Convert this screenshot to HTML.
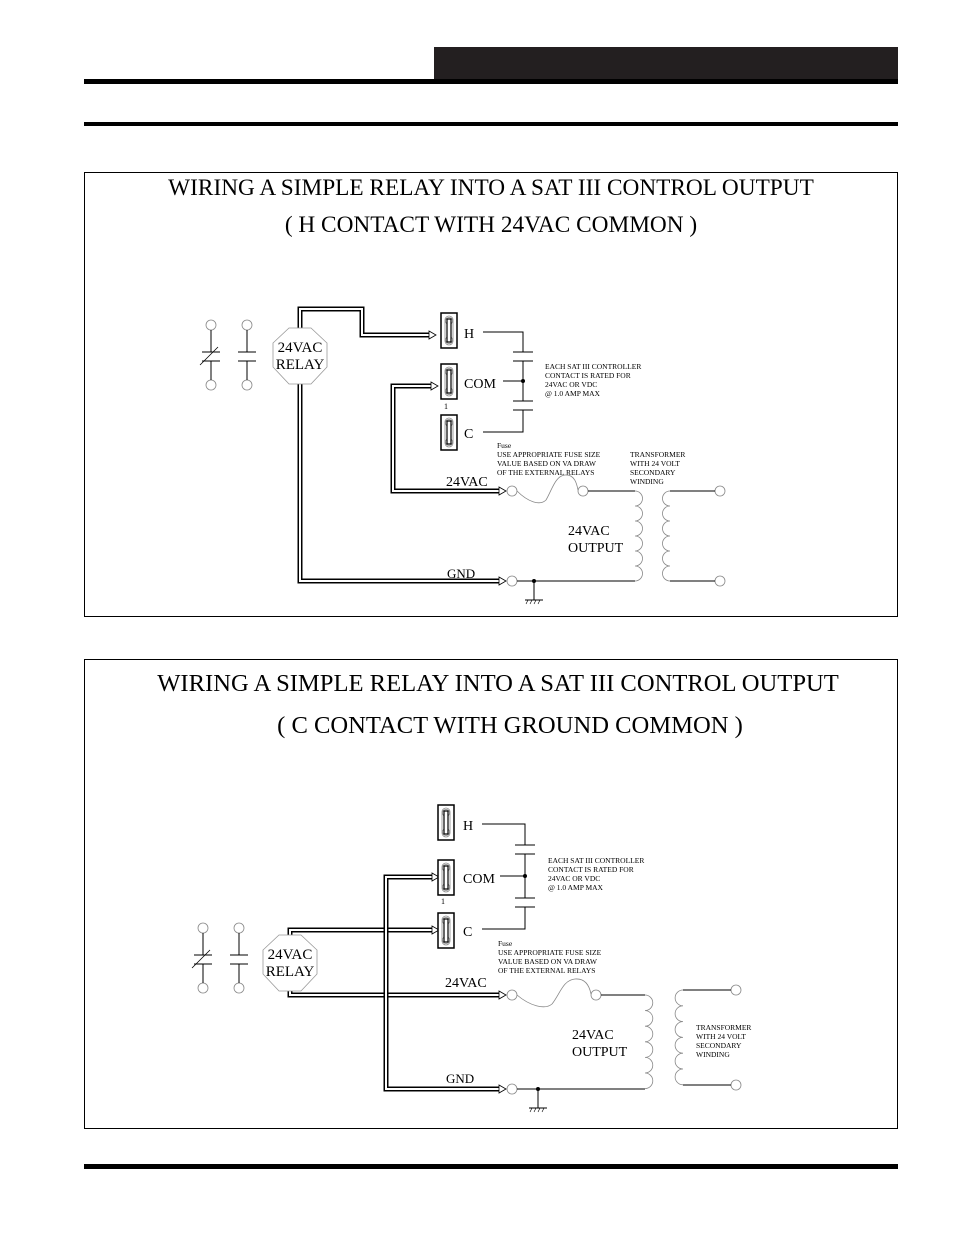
<!DOCTYPE html>
<html><head><meta charset="utf-8"><style>
html,body{margin:0;padding:0;background:#fff}
svg{display:block}
text{font-family:"Liberation Serif",serif;fill:#000}
</style></head><body>
<svg width="954" height="1235" viewBox="0 0 954 1235" xmlns="http://www.w3.org/2000/svg">
<defs>
<g id="blk">
<rect x="0" y="0" width="16" height="35" fill="#fff" stroke="#000" stroke-width="1.5"/>
<rect x="4" y="3" width="8" height="29" rx="4" fill="none" stroke="#888" stroke-width="0.8"/>
<circle cx="8" cy="8" r="3.5" fill="none" stroke="#888" stroke-width="0.8"/>
<circle cx="8" cy="27" r="3.5" fill="none" stroke="#888" stroke-width="0.8"/>
<rect x="6" y="6" width="4" height="23" fill="#fff" stroke="#000" stroke-width="1.2"/>
</g>
<g id="contacts">
<circle cx="0" cy="0" r="5" fill="#fff" stroke="#888" stroke-width="0.8"/>
<circle cx="0" cy="60" r="5" fill="#fff" stroke="#888" stroke-width="0.8"/>
<line x1="0" y1="5" x2="0" y2="27" stroke="#000"/>
<line x1="0" y1="36" x2="0" y2="55" stroke="#000"/>
<line x1="-9" y1="27" x2="9" y2="27" stroke="#000"/>
<line x1="-9" y1="36" x2="9" y2="36" stroke="#000"/>
<line x1="-11" y1="40" x2="7" y2="22" stroke="#000" stroke-width="0.8"/>
<circle cx="36" cy="0" r="5" fill="#fff" stroke="#888" stroke-width="0.8"/>
<circle cx="36" cy="60" r="5" fill="#fff" stroke="#888" stroke-width="0.8"/>
<line x1="36" y1="5" x2="36" y2="27" stroke="#000"/>
<line x1="36" y1="36" x2="36" y2="55" stroke="#000"/>
<line x1="27" y1="27" x2="45" y2="27" stroke="#000"/>
<line x1="27" y1="36" x2="45" y2="36" stroke="#000"/>
</g>
<g id="oct">
<polygon points="-11,-28 11,-28 27,-13 27,11 11,28 -11,28 -27,11 -27,-13" fill="#fff" stroke="#999" stroke-width="0.8"/>
<text x="0" y="-4" font-size="15" text-anchor="middle">24VAC</text>
<text x="0" y="13" font-size="15" text-anchor="middle">RELAY</text>
</g>
<g id="cap">
<line x1="-10" y1="0" x2="10" y2="0" stroke="#000"/>
<line x1="-10" y1="9" x2="10" y2="9" stroke="#000"/>
</g>
<g id="gnd">
<line x1="0" y1="0" x2="0" y2="19" stroke="#000"/>
<line x1="-9" y1="19" x2="9" y2="19" stroke="#000"/>
<path d="M-8 23 l2 -4 M-4 23 l2 -4 M0 23 l2 -4 M4 23 l2 -4" stroke="#000" stroke-width="0.6"/>
</g>
</defs>

<rect x="434" y="47" width="464" height="33" fill="#231f20"/>
<rect x="84" y="79" width="814" height="5" fill="#000"/>
<rect x="84" y="122" width="814" height="4" fill="#000"/>
<rect x="84" y="1164" width="814" height="5" fill="#000"/>

<rect x="84.5" y="172.5" width="813" height="444" fill="none" stroke="#000" stroke-width="1"/>
<text x="491" y="195" font-size="23.3" text-anchor="middle">WIRING A SIMPLE RELAY INTO A SAT III CONTROL OUTPUT</text>
<text x="491" y="232" font-size="23.3" text-anchor="middle">( H CONTACT WITH 24VAC COMMON )</text>

<use href="#contacts" x="211" y="325"/>
<g fill="none" stroke-linejoin="miter">
<path d="M300 330 V309 H362 V335 H429" stroke="#000" stroke-width="5"/>
<path d="M300 330 V309 H362 V335 H429" stroke="#fff" stroke-width="2"/>
<path d="M431 386 H393 V491 H499" stroke="#000" stroke-width="5"/>
<path d="M431 386 H393 V491 H499" stroke="#fff" stroke-width="2"/>
<path d="M300 380 V581 H499" stroke="#000" stroke-width="5"/>
<path d="M300 380 V581 H499" stroke="#fff" stroke-width="2"/>
</g>
<g fill="#fff" stroke="#000" stroke-width="0.8">
<polygon points="429,331 436,335 429,339"/>
<polygon points="431,382 438,386 431,390"/>
<polygon points="499,487 506,491 499,495"/>
<polygon points="499,577 506,581 499,585"/>
</g>
<use href="#oct" x="300" y="356"/>
<use href="#blk" x="441" y="313"/>
<use href="#blk" x="441" y="364"/>
<use href="#blk" x="441" y="415"/>
<text x="444" y="409" font-size="8">1</text>
<text x="464" y="338" font-size="14">H</text>
<text x="464" y="388" font-size="14">COM</text>
<text x="464" y="438" font-size="14">C</text>
<g stroke="#000" fill="none">
<path d="M483 332 H523 V352 M523 361 V401 M523 410 V432 H483 M503 381 H523"/>
</g>
<use href="#cap" x="523" y="352"/>
<use href="#cap" x="523" y="401"/>
<circle cx="523" cy="381" r="2" fill="#000"/>
<g font-size="7.5">
<text x="545" y="369">EACH SAT III CONTROLLER</text>
<text x="545" y="378">CONTACT IS RATED FOR</text>
<text x="545" y="387">24VAC OR VDC</text>
<text x="545" y="396">@ 1.0 AMP MAX</text>
<text x="497" y="448">Fuse</text>
<text x="497" y="457">USE APPROPRIATE FUSE SIZE</text>
<text x="497" y="466">VALUE BASED ON VA DRAW</text>
<text x="497" y="475">OF THE EXTERNAL RELAYS</text>
<text x="630" y="457">TRANSFORMER</text>
<text x="630" y="466">WITH 24 VOLT</text>
<text x="630" y="475">SECONDARY</text>
<text x="630" y="484">WINDING</text>
</g>
<text x="446" y="486" font-size="14">24VAC</text>
<text x="447" y="578" font-size="13">GND</text>
<text x="568" y="535" font-size="14">24VAC</text>
<text x="568" y="552" font-size="14">OUTPUT</text>
<g fill="none" stroke="#888" stroke-width="0.8">
<circle cx="512" cy="491" r="5"/><circle cx="583" cy="491" r="5"/>
<circle cx="512" cy="581" r="5"/>
<circle cx="720" cy="491" r="5"/><circle cx="720" cy="581" r="5"/>
<path d="M517 491 C528 502,540 506,546 500 C552 490,555 476,565 475 C575 474,577 485,578 490"/>
<path d="M635 491 a7.5 7.5 0 0 1 0 15 a7.5 7.5 0 0 1 0 15 a7.5 7.5 0 0 1 0 15 a7.5 7.5 0 0 1 0 15 a7.5 7.5 0 0 1 0 15 a7.5 7.5 0 0 1 0 15"/>
<path d="M670 491 a7.5 7.5 0 0 0 0 15 a7.5 7.5 0 0 0 0 15 a7.5 7.5 0 0 0 0 15 a7.5 7.5 0 0 0 0 15 a7.5 7.5 0 0 0 0 15 a7.5 7.5 0 0 0 0 15"/>
</g>
<g stroke="#000" fill="none">
<path d="M588 491 H635 M517 581 H635 M670 491 H715 M670 581 H715"/>
</g>
<circle cx="534" cy="581" r="2" fill="#000"/>
<use href="#gnd" x="534" y="581"/>

<rect x="84.5" y="659.5" width="813" height="469" fill="none" stroke="#000" stroke-width="1"/>
<text x="498" y="691" font-size="24.6" text-anchor="middle">WIRING A SIMPLE RELAY INTO A SAT III CONTROL OUTPUT</text>
<text x="510" y="733" font-size="24.6" text-anchor="middle">( C CONTACT WITH GROUND COMMON )</text>

<use href="#contacts" x="203" y="928"/>
<g fill="none">
<path d="M290 938 V930 H432" stroke="#000" stroke-width="5"/>
<path d="M290 938 V930 H432" stroke="#fff" stroke-width="2"/>
<path d="M290 988 V995 H499" stroke="#000" stroke-width="5"/>
<path d="M290 988 V995 H499" stroke="#fff" stroke-width="2"/>
<path d="M432 877 H386 V1089 H499" stroke="#000" stroke-width="5"/>
<path d="M432 877 H386 V1089 H499" stroke="#fff" stroke-width="2"/>
</g>
<g fill="#fff" stroke="#000" stroke-width="0.8">
<polygon points="432,926 439,930 432,934"/>
<polygon points="432,873 439,877 432,881"/>
<polygon points="499,991 506,995 499,999"/>
<polygon points="499,1085 506,1089 499,1093"/>
</g>
<use href="#oct" x="290" y="963"/>
<use href="#blk" x="438" y="805"/>
<use href="#blk" x="438" y="860"/>
<use href="#blk" x="438" y="913"/>
<text x="441" y="904" font-size="8">1</text>
<text x="463" y="830" font-size="14">H</text>
<text x="463" y="883" font-size="14">COM</text>
<text x="463" y="936" font-size="14">C</text>
<g stroke="#000" fill="none">
<path d="M482 824 H525 V845 M525 854 V898 M525 907 V929 H482 M500 876 H525"/>
</g>
<use href="#cap" x="525" y="845"/>
<use href="#cap" x="525" y="898"/>
<circle cx="525" cy="876" r="2" fill="#000"/>
<g font-size="7.5">
<text x="548" y="863">EACH SAT III CONTROLLER</text>
<text x="548" y="872">CONTACT IS RATED FOR</text>
<text x="548" y="881">24VAC OR VDC</text>
<text x="548" y="890">@ 1.0 AMP MAX</text>
<text x="498" y="946">Fuse</text>
<text x="498" y="955">USE APPROPRIATE FUSE SIZE</text>
<text x="498" y="964">VALUE BASED ON VA DRAW</text>
<text x="498" y="973">OF THE EXTERNAL RELAYS</text>
<text x="696" y="1030">TRANSFORMER</text>
<text x="696" y="1039">WITH 24 VOLT</text>
<text x="696" y="1048">SECONDARY</text>
<text x="696" y="1057">WINDING</text>
</g>
<text x="445" y="987" font-size="14">24VAC</text>
<text x="446" y="1083" font-size="13">GND</text>
<text x="572" y="1039" font-size="14">24VAC</text>
<text x="572" y="1056" font-size="14">OUTPUT</text>
<g fill="none" stroke="#888" stroke-width="0.8">
<circle cx="512" cy="995" r="5"/><circle cx="596" cy="995" r="5"/>
<circle cx="512" cy="1089" r="5"/>
<circle cx="736" cy="990" r="5"/><circle cx="736" cy="1085" r="5"/>
<path d="M517 995 C530 1006,545 1010,552 1004 C560 994,563 980,575 979 C587 978,590 989,591 994"/>
<path d="M645 995 a7.8 7.8 0 0 1 0 15.6 a7.8 7.8 0 0 1 0 15.6 a7.8 7.8 0 0 1 0 15.6 a7.8 7.8 0 0 1 0 15.6 a7.8 7.8 0 0 1 0 15.6 a7.8 7.8 0 0 1 0 15.6"/>
<path d="M683 990 a7.9 7.9 0 0 0 0 15.8 a7.9 7.9 0 0 0 0 15.8 a7.9 7.9 0 0 0 0 15.8 a7.9 7.9 0 0 0 0 15.8 a7.9 7.9 0 0 0 0 15.8 a7.9 7.9 0 0 0 0 15.8"/>
</g>
<g stroke="#000" fill="none">
<path d="M601 995 H645 M517 1089 H645 M683 990 H731 M683 1085 H731"/>
</g>
<circle cx="538" cy="1089" r="2" fill="#000"/>
<use href="#gnd" x="538" y="1089"/>
</svg>
</body></html>
